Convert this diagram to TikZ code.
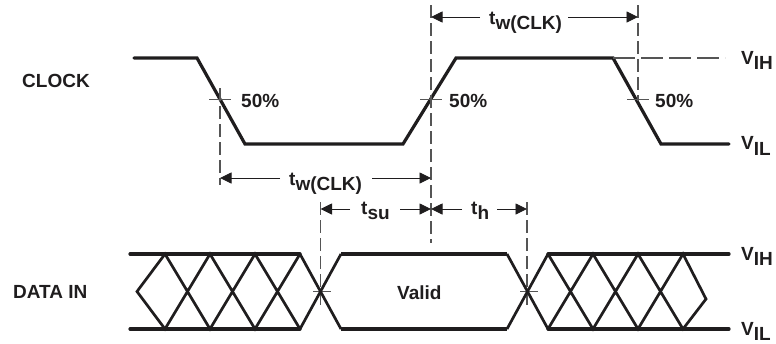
\documentclass[tikz,border=0pt]{standalone}
\usepackage{fontspec}
\setmainfont{Liberation Sans}
\usetikzlibrary{arrows.meta}
\newcommand{\subt}[2]{#1\raisebox{-5.5pt}{#2}}
\tikzset{
  x=1pt,y=-1pt,
  lbl/.style={font=\fontsize{19}{21}\selectfont\bfseries,text=ink,inner sep=0pt,anchor=base west},
  wave/.style={draw=ink,line width=3.2pt,line join=miter,line cap=round},
  cross/.style={draw=ink,line width=2.7pt,line join=miter},
  rail/.style={draw=ink,line width=3.2pt,line cap=round},
  guide/.style={draw=guidegray,line width=1.2pt,dash pattern=on 13pt off 5pt},
  tick/.style={draw=guidegray,line width=0.9pt},
  dim/.style={draw=ink,line width=0.9pt,-{Triangle[length=11.5pt,width=11pt]}},
}
\definecolor{ink}{HTML}{1F1D1E}
\definecolor{guidegray}{HTML}{555555}
\begin{document}
\begin{tikzpicture}
\useasboundingbox (0,0) rectangle (776,343);
% clock waveform
\coordinate (c0) at (134,58); \coordinate (c1) at (197,58); \coordinate (c2) at (245,144);
\coordinate (c3) at (403,144); \coordinate (c4) at (456,58); \coordinate (c5) at (613,58);
\coordinate (c6) at (661,144); \coordinate (c7) at (729,144);
\draw[wave] (c0) -- (c1) -- (c2) -- (c3) -- (c4) -- (c5) -- (c6) -- (c7);
\coordinate (vihend) at (725,58);
\draw[draw=guidegray,line width=1.2pt,dash pattern=on 22pt off 6pt] (c5) -- (vihend);
% guides
\coordinate (ga1) at (220,88); \coordinate (ga2) at (220,185);
\coordinate (gb1) at (431,5); \coordinate (gb2) at (431,243);
\coordinate (gc1) at (638,5); \coordinate (gc2) at (638,101);
\coordinate (gd1) at (320.5,202); \coordinate (gd2) at (320.5,305);
\coordinate (ge1) at (527,202); \coordinate (ge2) at (527,305);
\draw[guide] (ga1) -- (ga2);
\draw[guide] (gb1) -- (gb2);
\draw[guide] (gc1) -- (gc2);
\draw[guide] (gd1) -- (gd2);
\draw[guide] (ge1) -- (ge2);
% 50% ticks
\coordinate (ta1) at (209,99); \coordinate (ta2) at (231,99);
\coordinate (tb1) at (420,99); \coordinate (tb2) at (442,99);
\coordinate (tc1) at (627,99); \coordinate (tc2) at (649,99);
\coordinate (td1) at (313,291.5); \coordinate (td2) at (331,291.5);
\coordinate (te1) at (520,291.5); \coordinate (te2) at (538,291.5);
\draw[tick] (ta1) -- (ta2);
\draw[tick] (tb1) -- (tb2);
\draw[tick] (tc1) -- (tc2);
\draw[tick] (td1) -- (td2);
\draw[tick] (te1) -- (te2);
% data rails
\coordinate (l0) at (130,254); \coordinate (l1) at (300,254); \coordinate (l2) at (130,329); \coordinate (l3) at (300,329);
\coordinate (v0) at (341,254); \coordinate (v1) at (507,254); \coordinate (v2) at (341,329); \coordinate (v3) at (507,329);
\coordinate (r0) at (548,254); \coordinate (r1) at (729,254); \coordinate (r2) at (548,329); \coordinate (r3) at (729,329);
\draw[rail] (l0) -- (l1);
\draw[rail] (l2) -- (l3);
\draw[rail] (r0) -- (r1);
\draw[rail] (r2) -- (r3);
\draw[rail,line cap=butt] (v0) -- (v1);
\draw[rail,line cap=butt] (v2) -- (v3);
\draw[cross] (l1) -- (v2);
\draw[cross] (v3) -- (r0);
\draw[cross] (l3) -- (v0);
\draw[cross] (v1) -- (r2);
% left hatch
\coordinate (h0) at (137,291.5);
\coordinate (ht1) at (165,254); \coordinate (ht2) at (210,254); \coordinate (ht3) at (255,254);
\coordinate (hb1) at (165,329); \coordinate (hb2) at (210,329); \coordinate (hb3) at (255,329);
\draw[cross] (l1) -- (hb3) -- (ht2) -- (hb1) -- (h0) -- (ht1) -- (hb2) -- (ht3) -- (l3);
% right hatch
\coordinate (k0) at (706,299);
\coordinate (kt1) at (593,254); \coordinate (kt2) at (638,254); \coordinate (kt3) at (683,254);
\coordinate (kb1) at (593,329); \coordinate (kb2) at (638,329); \coordinate (kb3) at (683,329);
\draw[cross] (r0) -- (kb1) -- (kt2) -- (kb3) -- (k0) -- (kt3) -- (kb2) -- (kt1) -- (r2);
% labels
\node[lbl] (clk) at (22,87) {CLOCK};
\node[lbl] (dat) at (13,298) {DATA IN};
\node[lbl] (valid) at (397,299) {Valid};
\node[lbl] (p1) at (241,107) {50\%};
\node[lbl] (p2) at (449,107) {50\%};
\node[lbl] (p3) at (655,107) {50\%};
\node[lbl] (vih1) at (741,64) {\subt{V}{IH}};
\node[lbl] (vil1) at (741,149.5) {\subt{V}{IL}};
\node[lbl] (vih2) at (741,260) {\subt{V}{IH}};
\node[lbl] (vil2) at (741,335) {\subt{V}{IL}};
\node[lbl] (tw1) at (489,24) {\subt{t}{w(CLK)}};
\node[lbl] (tw2) at (289,185) {\subt{t}{w(CLK)}};
\node[lbl] (tsu) at (361,214) {\subt{t}{su}};
\node[lbl] (th) at (471,214) {\subt{t}{h}};
% dimension arrows
\coordinate (a1) at (431,17); \coordinate (a2) at (480,17); \coordinate (a3) at (568,17); \coordinate (a4) at (638,17);
\draw[dim] (a2) -- (a1);
\draw[dim] (a3) -- (a4);
\coordinate (b1) at (220,178); \coordinate (b2) at (280,178); \coordinate (b3) at (372,178); \coordinate (b4) at (431,178);
\draw[dim] (b2) -- (b1);
\draw[dim] (b3) -- (b4);
\coordinate (s1) at (320.5,209); \coordinate (s2) at (350,209); \coordinate (s3) at (400,209); \coordinate (s4) at (431,209);
\draw[dim] (s2) -- (s1);
\draw[dim] (s3) -- (s4);
\coordinate (u2) at (462,209); \coordinate (u3) at (497,209); \coordinate (u4) at (527,209);
\draw[dim] (u2) -- (s4);
\draw[dim] (u3) -- (u4);
\end{tikzpicture}
\end{document}
